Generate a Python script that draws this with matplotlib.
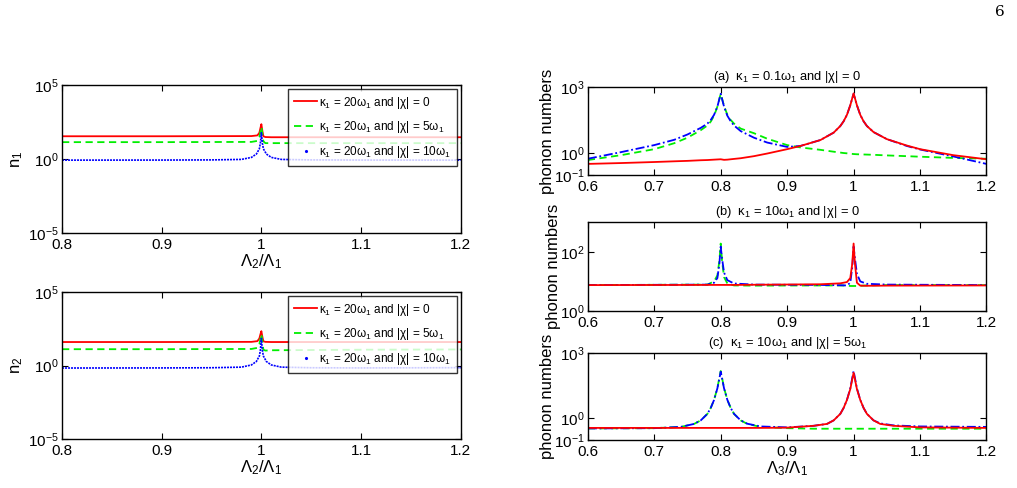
import matplotlib
matplotlib.use("Agg")
import matplotlib.pyplot as plt
from matplotlib.lines import Line2D

plt.rcParams['font.family'] = ['Liberation Sans', 'DejaVu Sans']
plt.rcParams['mathtext.fontset'] = 'custom'
plt.rcParams['mathtext.rm'] = 'Liberation Sans'
plt.rcParams['mathtext.it'] = 'Liberation Sans:italic'

###################################### datos leidos de la figura
# paneles de la izquierda (n1 y n2 frente a L2/L1)
x_rg = [0.80, 0.90, 0.99, 0.996, 0.998, 0.999, 1.000, 1.001, 1.002, 1.004, 1.01, 1.10, 1.20]
n1_rojo = [35, 35, 36, 40, 60, 120, 230, 80, 35, 31, 30, 30, 30]
n1_verde = [14, 14, 14.5, 17, 30, 70, 150, 50, 16, 12, 12, 12, 12]
n2_rojo = [40, 40, 41, 46, 70, 130, 220, 90, 45, 41, 40, 40, 40]
n2_verde = [13, 13, 13.5, 16, 28, 65, 140, 45, 12, 10.5, 11, 12, 12.5]

x_az = [0.80, 0.90, 0.95, 0.98, 0.99, 0.995, 0.998, 0.999, 1.000, 1.001, 1.002, 1.005, 1.01, 1.02, 1.05, 1.10, 1.20]
n1_azul = [0.85, 0.86, 0.88, 0.95, 1.3, 2.2, 5, 12, 60, 12, 5, 2.2, 1.3, 0.95, 0.88, 0.86, 0.85]
n2_azul = [0.68, 0.69, 0.71, 0.78, 1.1, 1.9, 4.5, 11, 70, 11, 4.5, 1.9, 1.1, 0.78, 0.71, 0.69, 0.72]

leyenda_izq = [r'κ$_1$ = 20ω$_1$ and |χ| = 0',
               r'κ$_1$ = 20ω$_1$ and |χ| = 5ω$_1$',
               r'κ$_1$ = 20ω$_1$ and |χ| = 10ω$_1$']

# paneles de la derecha (phonon numbers frente a L3/L1)
xa = [0.60, 0.65, 0.70, 0.73, 0.75, 0.77, 0.78, 0.785, 0.79, 0.795, 0.80, 0.805, 0.81, 0.815,
      0.82, 0.83, 0.85, 0.87, 0.90, 0.92, 0.95, 0.97, 0.98, 0.985, 0.99, 0.995, 1.00, 1.005,
      1.01, 1.015, 1.02, 1.03, 1.05, 1.08, 1.10, 1.15, 1.20]
a_rojo = [0.32, 0.35, 0.39, 0.42, 0.44, 0.47, 0.48, 0.49, 0.50, 0.51, 0.52, 0.49, 0.50, 0.52,
          0.54, 0.58, 0.72, 0.95, 1.5, 2.1, 3.9, 8.5, 17, 28, 55, 150, 520, 150,
          55, 28, 17, 9, 4.3, 2.2, 1.5, 0.8, 0.52]
a_verde = [0.48, 0.8, 1.5, 2.8, 5, 11, 18, 27, 50, 130, 500, 140, 55, 32,
           22, 13, 8, 4.5, 2.3, 1.8, 1.4, 1.15, 1.05, 1.0, 0.97, 0.93, 0.9, 0.88,
           0.87, 0.86, 0.85, 0.83, 0.78, 0.72, 0.68, 0.6, 0.55]
a_azul = [0.55, 1.1, 2.3, 4, 7, 14, 22, 32, 55, 130, 500, 130, 50, 28,
          18, 10, 5, 3, 1.9, 2.1, 3.9, 8.5, 17, 28, 55, 150, 500, 150,
          55, 28, 17, 9, 4.3, 2.1, 1.45, 0.7, 0.32]

xb = [0.60, 0.78, 0.79, 0.795, 0.798, 0.80, 0.802, 0.805, 0.81, 0.82, 0.85, 0.95, 0.98, 0.99,
      0.995, 0.998, 1.00, 1.002, 1.005, 1.01, 1.02, 1.05, 1.20]
b_rojo = [7.5, 7.6, 7.6, 7.6, 7.6, 7.6, 7.6, 7.6, 7.6, 7.6, 7.7, 8.0, 8.6, 9.5,
          13, 40, 190, 40, 9, 7.2, 7.1, 7.2, 7.3]
b_verde = [7.5, 7.8, 10, 16, 50, 190, 50, 14, 8.5, 7.3, 7.2, 7.3, 7.3, 7.2,
           7.0, 7.0, 7.0, 7.0, 7.0, 7.1, 7.3, 7.5, 7.5]
b_azul = [7.5, 7.8, 9, 13, 40, 150, 60, 20, 11, 8.5, 7.8, 7.6, 7.4, 7.3,
          9, 30, 150, 60, 18, 10, 8.3, 7.8, 7.5]

xc = [0.60, 0.70, 0.74, 0.76, 0.77, 0.78, 0.785, 0.79, 0.795, 0.80, 0.805, 0.81, 0.815, 0.82,
      0.83, 0.84, 0.86, 0.90, 0.94, 0.96, 0.97, 0.98, 0.985, 0.99, 0.995, 1.00, 1.005, 1.01,
      1.015, 1.02, 1.03, 1.04, 1.06, 1.10, 1.20]
c_rojo = [0.36, 0.36, 0.36, 0.36, 0.36, 0.36, 0.36, 0.36, 0.36, 0.36, 0.36, 0.36, 0.36, 0.36,
          0.36, 0.36, 0.36, 0.37, 0.45, 0.55, 0.8, 1.6, 3, 7, 22, 125, 22, 7,
          3, 1.6, 0.8, 0.55, 0.45, 0.38, 0.36]
c_verde = [0.34, 0.35, 0.40, 0.55, 0.8, 1.6, 3, 7, 25, 150, 25, 7, 3, 1.6,
           0.8, 0.55, 0.40, 0.35, 0.33, 0.33, 0.33, 0.33, 0.33, 0.33, 0.33, 0.33, 0.33, 0.33,
           0.33, 0.33, 0.33, 0.33, 0.33, 0.33, 0.33]
c_azul = [0.34, 0.35, 0.40, 0.55, 0.8, 1.6, 3, 7, 24, 140, 24, 7, 3, 1.6,
          0.8, 0.56, 0.42, 0.38, 0.45, 0.55, 0.8, 1.6, 3, 7, 24, 150, 24, 7,
          3, 1.6, 0.8, 0.58, 0.47, 0.42, 0.40]

titulos = [r'(a)  κ$_1$ = 0.1ω$_1$ and |χ| = 0',
           r'(b)  κ$_1$ = 10ω$_1$ and |χ| = 0',
           r'(c)  κ$_1$ = 10ω$_1$ and |χ| = 5ω$_1$']

VERDE = '#00ee00'


###################################### funciones auxiliares
def estilo(ax):
    ax.tick_params(direction='in', top=True, right=True, labelsize=11, length=4, width=0.8)
    ax.tick_params(axis='y', pad=2.5)
    ax.minorticks_off()
    for s in ax.spines.values():
        s.set_linewidth(1.0)


def panel_izq(ax, rojo, verde, azul, ylab):
    ax.plot(x_rg, rojo, 'r-', lw=1.3)
    ax.plot(x_rg, verde, '--', color=VERDE, lw=1.3, dashes=(4, 2.5))
    ax.plot(x_az, azul, color='b', lw=1.2, dashes=(1.2, 0.6))
    ax.set_yscale('log')
    ax.set_xlim(0.8, 1.2)
    ax.set_ylim(1e-5, 1e5)
    ax.set_yticks([1e-5, 1e0, 1e5])
    ax.set_xticks([0.8, 0.9, 1.0, 1.1, 1.2])
    ax.set_xticklabels(['0.8', '0.9', '1', '1.1', '1.2'])
    estilo(ax)
    ax.set_ylabel(ylab, fontsize=12, labelpad=2)
    ax.set_xlabel(r'Λ$_2$/Λ$_1$', fontsize=12, labelpad=0)
    handles = [Line2D([], [], color='r', lw=1.3),
               Line2D([], [], color=VERDE, lw=1.3, ls='--', dashes=(4, 2.5)),
               Line2D([], [], color='b', marker='.', ls='none', markersize=2.5)]
    leg = ax.legend(handles, leyenda_izq, loc='upper right', fontsize=8.5, frameon=True,
                    fancybox=False, edgecolor='k', borderaxespad=0.3, handlelength=2.0,
                    handletextpad=0.15, labelspacing=0.75, borderpad=0.5)
    leg.get_frame().set_linewidth(1.0)


def panel_der(ax, x, rojo, verde, azul, titulo, ylim, yticks):
    ax.plot(x, verde, '--', color=VERDE, lw=1.3, dashes=(4, 2.5))
    ax.plot(x, azul, '-.', color='b', lw=1.3, dashes=(5, 1.5, 1, 1.5))
    ax.plot(x, rojo, 'r-', lw=1.3)
    ax.set_yscale('log')
    ax.set_xlim(0.6, 1.2)
    ax.set_ylim(*ylim)
    ax.set_yticks(yticks)
    ax.set_xticks([0.6, 0.7, 0.8, 0.9, 1.0, 1.1, 1.2])
    ax.set_xticklabels(['0.6', '0.7', '0.8', '0.9', '1', '1.1', '1.2'])
    estilo(ax)
    ax.set_ylabel('phonon numbers', fontsize=12, labelpad=-1)
    ax.set_title(titulo, fontsize=9.3, pad=5)


###################################### figura
fig = plt.figure(figsize=(10.17, 4.88), dpi=100)

ax1 = fig.add_axes([0.061, 0.5225, 0.392, 0.303])
panel_izq(ax1, n1_rojo, n1_verde, n1_azul, r'n$_1$')
ax2 = fig.add_axes([0.061, 0.1004, 0.392, 0.301])
panel_izq(ax2, n2_rojo, n2_verde, n2_azul, r'n$_2$')

axa = fig.add_axes([0.578, 0.6414, 0.392, 0.180])
panel_der(axa, xa, a_rojo, a_verde, a_azul, titulos[0], (0.1, 1000), [1e-1, 1e0, 1e3])
axb = fig.add_axes([0.578, 0.3627, 0.392, 0.182])
panel_der(axb, xb, b_rojo, b_verde, b_azul, titulos[1], (1, 1000), [1e0, 1e2])
axc = fig.add_axes([0.578, 0.0984, 0.392, 0.178])
panel_der(axc, xc, c_rojo, c_verde, c_azul, titulos[2], (0.1, 1000), [1e-1, 1e0, 1e3])
axc.set_xlabel(r'Λ$_3$/Λ$_1$', fontsize=12, labelpad=0)

fig.text(0.988, 0.99, '6', fontsize=11, family='DejaVu Serif', ha='right', va='top')

fig.savefig('out.png', dpi=100)
